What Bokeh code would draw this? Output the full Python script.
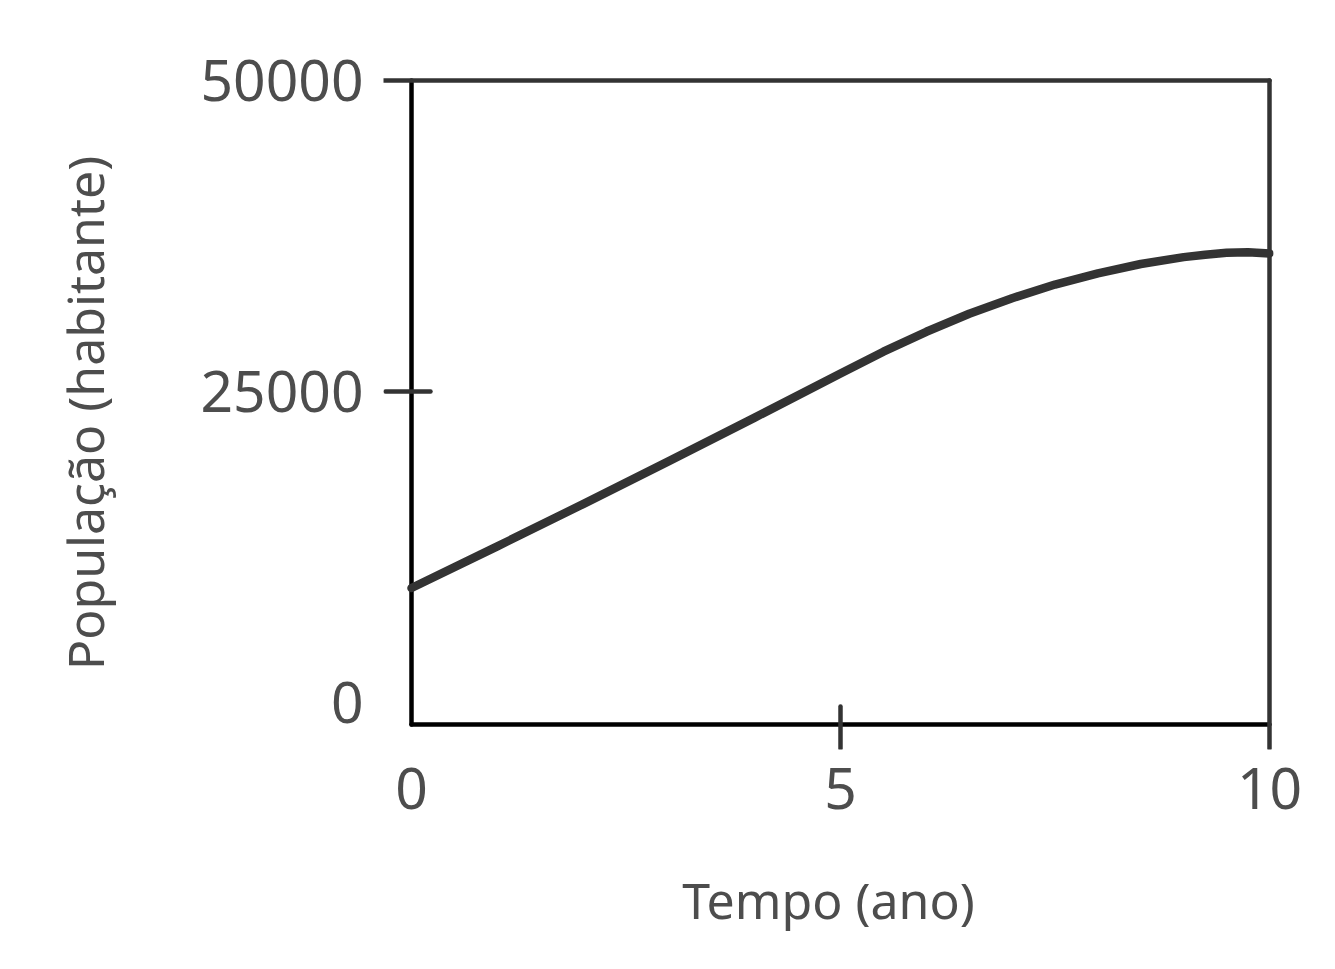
from bokeh.plotting import figure
from bokeh.models import Range1d, FixedTicker
from bokeh.embed import file_html
from bokeh.resources import INLINE

# ---- data ----
tempo = [0, 1, 2, 3, 4, 5, 5.5, 6, 6.5, 7, 7.5, 8, 8.5, 9, 9.25, 9.5, 9.75, 10]
populacao = [9200, 12550, 15950, 19400, 22900, 26450, 28200, 29800, 31250,
             32500, 33600, 34500, 35250, 35800, 36000, 36150, 36200, 36100]
x_ticks = [0, 5, 10]
y_ticks = [0, 25000, 50000]
x_title = "Tempo (ano)"
y_title = "População (habitante)"

# ---- layout / style ----
W, H = 1319, 953
frame_left, frame_right = 383, 1273      # figure px
frame_top, frame_bottom = 76, 749
x0_px, x10_px = 411, 1269                # where 0 and 10 fall
y0_px, y50_px = 702, 80                  # where 0 and 50000 fall
ux = (x10_px - x0_px) / 10.0             # px per x unit
uy = (y0_px - y50_px) / 50000.0          # px per y unit

def xd(px):
    return (px - x0_px) / ux

def yd(px):
    return (y0_px - px) / uy

p = figure(width=W, height=H, output_backend="svg", toolbar_location=None,
           x_range=Range1d(xd(frame_left), xd(frame_right)),
           y_range=Range1d(yd(frame_bottom), yd(frame_top)),
           min_border_left=frame_left, min_border_right=W - frame_right,
           min_border_top=frame_top, min_border_bottom=H - frame_bottom)
p.outline_line_color = None
p.grid.visible = False
p.background_fill_color = "white"
p.border_fill_color = "white"

label_color = "#4d4d4d"
for ax in (p.xaxis[0], p.yaxis[0]):
    ax.axis_line_color = None
    ax.major_tick_line_color = None
    ax.minor_tick_line_color = None
    ax.major_label_text_font = "Noto Sans"
    ax.major_label_text_font_size = "57px"
    ax.major_label_text_color = label_color
    ax.axis_label_text_font = "Noto Sans"
    ax.axis_label_text_font_size = "50px"
    ax.axis_label_text_font_style = "normal"
    ax.axis_label_text_color = label_color

p.xaxis[0].ticker = FixedTicker(ticks=x_ticks)
p.yaxis[0].ticker = FixedTicker(ticks=y_ticks)
p.xaxis[0].major_label_standoff = 12
p.yaxis[0].major_label_standoff = 14
p.xaxis[0].axis_label = x_title
p.yaxis[0].axis_label = y_title
p.xaxis[0].axis_label_standoff = 54
p.yaxis[0].axis_label_standoff = 78

# spines and ticks (hand-drawn look)
bottom_y = yd(724)
dark = "#333333"
p.segment(x0=[0, 0], y0=[bottom_y, bottom_y], x1=[0, 10], y1=[50000, bottom_y],
          line_color="black", line_width=4.5, line_cap="round")
p.segment(x0=[xd(frame_left), 10], y0=[50000, 50000], x1=[10, 10], y1=[50000, yd(748)],
          line_color=dark, line_width=4.5, line_cap="round")
# y tick at 25000 (crossing)
p.segment(x0=[xd(385)], y0=[25000], x1=[xd(430)], y1=[25000],
          line_color=dark, line_width=4.5, line_cap="round")
# x tick at 5 (crossing)
p.segment(x0=[5], y0=[yd(706)], x1=[5], y1=[yd(748)],
          line_color=dark, line_width=4.5, line_cap="round")

# curve
p.line(tempo, populacao, line_color=dark, line_width=8.5,
       line_cap="round", line_join="round")

open("out.html", "w").write(file_html(p, INLINE))
